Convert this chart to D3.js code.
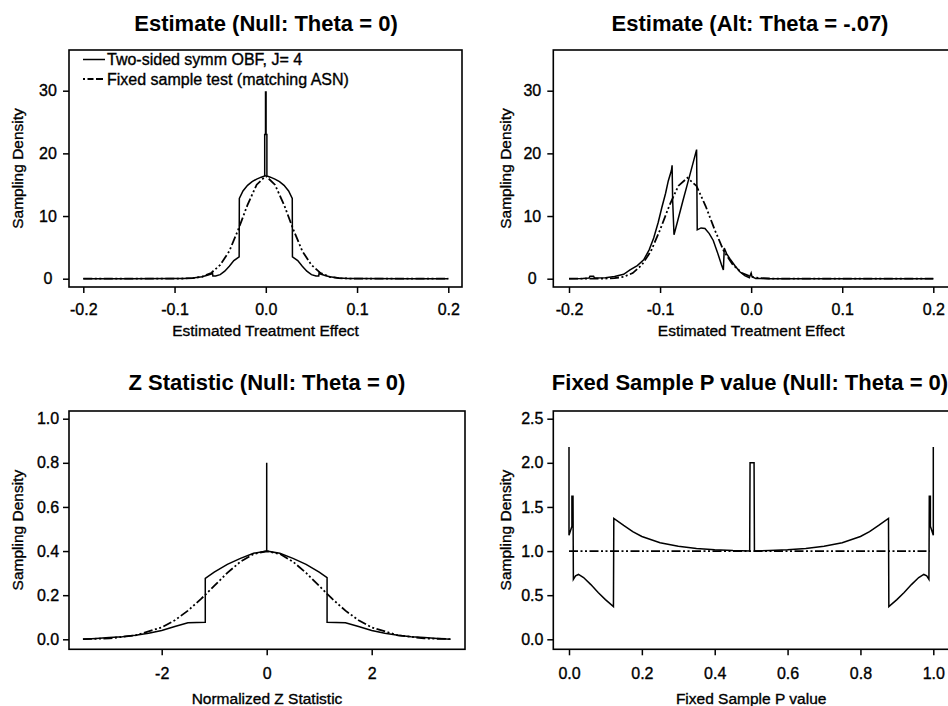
<!DOCTYPE html>
<html>
<head>
<meta charset="utf-8">
<script src="https://cdn.jsdelivr.net/npm/d3@7"></script>
<style>
body { margin: 0; background: #fff; }
svg { display: block; font-family: "Liberation Sans", Arial, sans-serif; }
.heavy { stroke: #000; stroke-width: 0.35px; }
</style>
</head>
<body>
<svg width="948" height="706"></svg>
<script>
// values, [x, density]
const estNullObf = [
  [-0.2, 0], [-0.15, 0], [-0.1, 0.02], [-0.09, 0.04], [-0.08, 0.1], [-0.07, 0.3],
  [-0.065, 0.5], [-0.06, 0.75], [-0.0585, 1.0], [-0.058, 0.45], [-0.055, 0.45],
  [-0.05, 0.65], [-0.045, 1.2], [-0.04, 2.0], [-0.035, 2.9], [-0.0292, 3.5],
  [-0.029, 12.8], [-0.025, 14.0], [-0.02, 14.9], [-0.015, 15.5], [-0.01, 15.9],
  [-0.005, 16.2], [-0.0012, 16.4], [-0.0012, 23], [-0.0003, 23], [-0.0003, 29.8],
  [0.0003, 29.8], [0.0003, 23], [0.0012, 23], [0.0012, 16.4], [0.005, 16.2],
  [0.01, 15.9], [0.015, 15.5], [0.02, 14.9], [0.025, 14.0], [0.029, 12.8],
  [0.0292, 3.5], [0.035, 2.9], [0.04, 2.0], [0.045, 1.2], [0.05, 0.65],
  [0.055, 0.45], [0.058, 0.45], [0.0585, 1.0], [0.06, 0.75], [0.065, 0.5],
  [0.07, 0.3], [0.08, 0.1], [0.09, 0.04], [0.1, 0.02], [0.15, 0], [0.2, 0]
];
const estNullFixed = [
  [-0.2, 0], [-0.12, 0], [-0.1, 0.01], [-0.09, 0.03], [-0.08, 0.09], [-0.07, 0.3],
  [-0.06, 0.9], [-0.05, 2.2], [-0.04, 4.4], [-0.03, 7.9], [-0.02, 11.8],
  [-0.01, 15.0], [0, 16.4], [0.01, 15.0], [0.02, 11.8], [0.03, 7.9], [0.04, 4.4],
  [0.05, 2.2], [0.06, 0.9], [0.07, 0.3], [0.08, 0.09], [0.09, 0.03], [0.1, 0.01],
  [0.12, 0], [0.2, 0]
];
const estAltObf = [
  [-0.2, 0], [-0.185, 0.05], [-0.178, 0.1], [-0.177, 0.4], [-0.173, 0.4],
  [-0.172, 0.1], [-0.16, 0.15], [-0.15, 0.35], [-0.14, 0.7], [-0.133, 1.4],
  [-0.125, 2.1], [-0.118, 3.0], [-0.112, 4.6], [-0.107, 6.5], [-0.102, 9.0],
  [-0.098, 11.4], [-0.094, 13.6], [-0.091, 15.6], [-0.0875, 17.3], [-0.0868, 18.1],
  [-0.0862, 12.6], [-0.0847, 7.0], [-0.08, 9.6], [-0.075, 12.4], [-0.07, 15.1],
  [-0.065, 17.8], [-0.0599, 20.6], [-0.0592, 7.8], [-0.055, 8.1], [-0.0507, 8.0],
  [-0.046, 7.2], [-0.0416, 6.1], [-0.037, 4.2], [-0.0325, 2.2], [-0.0305, 1.4],
  [-0.0295, 4.9], [-0.027, 4.0], [-0.0234, 3.2], [-0.018, 2.1], [-0.0124, 1.1],
  [-0.007, 0.5], [-0.002, 0.15], [0, 0.9], [0.001, 0.3], [0.005, 0.05],
  [0.02, 0], [0.2, 0]
];
const estAltFixed = [
  [-0.2, 0], [-0.17, 0], [-0.16, 0.03], [-0.15, 0.09], [-0.14, 0.3],
  [-0.13, 0.9], [-0.12, 2.2], [-0.11, 4.4], [-0.1, 7.8], [-0.09, 11.6],
  [-0.08, 14.8], [-0.07, 16.1], [-0.06, 14.8], [-0.05, 11.6], [-0.04, 7.8],
  [-0.03, 4.4], [-0.02, 2.2], [-0.01, 0.9], [0, 0.3], [0.01, 0.09], [0.02, 0.03],
  [0.03, 0], [0.2, 0]
];
const zObf = [
  [-3.5, 0], [-3.25, 0.004], [-3.0, 0.008], [-2.75, 0.012], [-2.5, 0.018],
  [-2.25, 0.027], [-2.0, 0.04], [-1.75, 0.058], [-1.5, 0.075], [-1.17, 0.077],
  [-1.17, 0.276], [-1.0, 0.305], [-0.75, 0.34], [-0.5, 0.367], [-0.25, 0.39],
  [0, 0.40], [0, 0.80], [0, 0.40], [0.25, 0.39], [0.5, 0.367], [0.75, 0.34],
  [1.0, 0.305], [1.15, 0.28], [1.15, 0.077], [1.5, 0.075], [1.75, 0.058],
  [2.0, 0.04], [2.25, 0.027], [2.5, 0.018], [2.75, 0.012], [3.0, 0.008],
  [3.25, 0.004], [3.5, 0]
];
const zFixed = [
  [-3.5, 0.001], [-3.0, 0.004], [-2.5, 0.018], [-2.0, 0.054], [-1.75, 0.086],
  [-1.5, 0.13], [-1.25, 0.183], [-1.0, 0.242], [-0.75, 0.301], [-0.5, 0.352],
  [-0.25, 0.387], [0, 0.399], [0.25, 0.387], [0.5, 0.352], [0.75, 0.301],
  [1.0, 0.242], [1.25, 0.183], [1.5, 0.13], [1.75, 0.086], [2.0, 0.054],
  [2.5, 0.018], [3.0, 0.004], [3.5, 0.001]
];
const pObf = [
  [0, 2.18], [0, 1.18], [0.008, 1.28], [0.008, 1.62], [0.011, 1.62], [0.012, 0.68],
  [0.018, 0.72], [0.026, 0.735], [0.04, 0.70], [0.06, 0.62], [0.08, 0.53],
  [0.1, 0.45], [0.122, 0.37], [0.123, 1.37], [0.15, 1.29], [0.175, 1.22],
  [0.2, 1.165], [0.25, 1.095], [0.3, 1.055], [0.35, 1.03], [0.4, 1.015],
  [0.45, 1.005], [0.496, 1.0], [0.497, 2.0], [0.508, 2.0], [0.509, 1.0],
  [0.55, 1.005], [0.6, 1.015], [0.65, 1.03], [0.7, 1.055], [0.75, 1.095],
  [0.8, 1.165], [0.825, 1.22], [0.85, 1.29], [0.877, 1.37], [0.878, 0.37],
  [0.9, 0.45], [0.92, 0.53], [0.94, 0.62], [0.96, 0.70], [0.974, 0.735],
  [0.982, 0.72], [0.988, 0.68], [0.989, 1.62], [0.992, 1.62], [0.992, 1.28],
  [1.0, 1.18], [1.0, 2.18]
];
const pFixed = [[0, 1], [0.99, 1]];

const estTicksX = [-0.2, -0.1, 0, 0.1, 0.2];
const estTicksY = [0, 10, 20, 30];
const zTicksX = [-2, 0, 2];
const zTicksY = [0, 0.2, 0.4, 0.6, 0.8, 1.0];
const pTicksX = [0, 0.2, 0.4, 0.6, 0.8, 1.0];
const pTicksY = [0, 0.5, 1.0, 1.5, 2.0, 2.5];

const legendLabels = ["Two-sided symm OBF, J= 4", "Fixed sample test (matching ASN)"];

const svg = d3.select("svg");
const dashFixed = "9,2.5,2,2.5,2,2.5";
const fmt1 = d => d.toFixed(1);

function panel(c) {
  const x = d3.scaleLinear().domain(c.xd).range(c.xr);
  const y = d3.scaleLinear().domain(c.yd).range(c.yr);
  const g = svg.append("g");

  g.append("text")
    .attr("x", c.titleX).attr("y", c.titleY)
    .attr("text-anchor", "middle")
    .attr("font-size", 22).attr("font-weight", "bold")
    .text(c.title);

  const line = d3.line().x(d => x(d[0])).y(d => y(d[1]));
  g.append("path").datum(c.fixed)
    .attr("fill", "none").attr("stroke", "#000")
    .attr("stroke-width", 1.8).attr("stroke-dasharray", dashFixed)
    .attr("d", line);
  g.append("path").datum(c.obf)
    .attr("fill", "none").attr("stroke", "#000")
    .attr("stroke-width", 1.5).attr("stroke-linejoin", "miter")
    .attr("d", line);

  g.append("rect")
    .attr("x", c.box[0]).attr("y", c.box[1])
    .attr("width", c.box[2] - c.box[0]).attr("height", c.box[3] - c.box[1])
    .attr("fill", "none").attr("stroke", "#000").attr("stroke-width", 1.6);

  const ya = g.append("g")
    .attr("transform", `translate(${c.box[0]},0)`)
    .call(d3.axisLeft(y).tickValues(c.yTicks).tickSize(6).tickFormat(c.fy));
  ya.select(".domain").remove();
  ya.selectAll("line").attr("stroke-width", 1.5);
  ya.selectAll("text")
    .attr("x", -21).attr("text-anchor", "middle")
    .attr("class", "heavy")
    .attr("font-size", 16).attr("font-family", null);

  const xa = g.append("g")
    .attr("transform", `translate(0,${c.box[3]})`)
    .call(d3.axisBottom(x).tickValues(c.xTicks).tickSize(6).tickFormat(c.fx));
  xa.select(".domain").remove();
  xa.selectAll("line").attr("stroke-width", 1.5);
  xa.selectAll("text")
    .attr("y", c.tickY).attr("dy", 0)
    .attr("class", "heavy")
    .attr("font-size", 16).attr("font-family", null);

  g.append("text")
    .attr("x", (c.box[0] + c.box[2]) / 2).attr("y", c.xLabelY)
    .attr("text-anchor", "middle").attr("font-size", 15.5)
    .attr("class", "heavy")
    .text(c.xLabel);

  g.append("text")
    .attr("transform", `translate(${c.yLabelX},${(c.box[1] + c.box[3]) / 2}) rotate(-90)`)
    .attr("text-anchor", "middle").attr("font-size", 15.5)
    .attr("class", "heavy")
    .text("Sampling Density");
  return g;
}

const p1 = panel({
  box: [69, 50, 462, 287], xd: [-0.2, 0.2], xr: [83.3, 448.3], yd: [0, 30], yr: [278.7, 90.7],
  xTicks: estTicksX, yTicks: estTicksY, fx: fmt1, fy: d => String(d), tickY: 28,
  title: "Estimate (Null: Theta = 0)", titleX: 266, titleY: 31,
  xLabel: "Estimated Treatment Effect", xLabelY: 336, yLabelX: 23,
  obf: estNullObf, fixed: estNullFixed
});
panel({
  box: [553.3, 50, 949, 287], xd: [-0.2, 0.2], xr: [569, 933.3], yd: [0, 30], yr: [278.7, 90.7],
  xTicks: estTicksX, yTicks: estTicksY, fx: fmt1, fy: d => String(d), tickY: 28,
  title: "Estimate (Alt: Theta = -.07)", titleX: 750, titleY: 31,
  xLabel: "Estimated Treatment Effect", xLabelY: 336, yLabelX: 511,
  obf: estAltObf, fixed: estAltFixed
});
panel({
  box: [69, 411, 465, 649.3], xd: [-2, 2], xr: [161.7, 371.7], yd: [0, 1], yr: [639.3, 418.7],
  xTicks: zTicksX, yTicks: zTicksY, fx: d => String(d), fy: fmt1, tickY: 30,
  title: "Z Statistic (Null: Theta = 0)", titleX: 267, titleY: 390,
  xLabel: "Normalized Z Statistic", xLabelY: 704, yLabelX: 23,
  obf: zObf, fixed: zFixed
});
panel({
  box: [553.3, 411, 949, 649.3], xd: [0, 1], xr: [569, 933.3], yd: [0, 2.5], yr: [639.3, 418.7],
  xTicks: pTicksX, yTicks: pTicksY, fx: fmt1, fy: fmt1, tickY: 30,
  title: "Fixed Sample P value (Null: Theta = 0)", titleX: 750, titleY: 390,
  xLabel: "Fixed Sample P value", xLabelY: 704, yLabelX: 511,
  obf: pObf, fixed: pFixed
});

// legend, top-left panel
const leg = p1.append("g");
leg.selectAll("line").data(legendLabels).join("line")
  .attr("x1", 83).attr("x2", 105)
  .attr("y1", (d, i) => 59.5 + i * 19.5).attr("y2", (d, i) => 59.5 + i * 19.5)
  .attr("stroke", "#000")
  .attr("stroke-width", (d, i) => i ? 1.8 : 1.5)
  .attr("stroke-dasharray", (d, i) => i ? "2,2.5,6,2.5,5,0" : null);
leg.selectAll("text").data(legendLabels).join("text")
  .attr("x", 107).attr("y", (d, i) => 65 + i * 19.5)
  .attr("font-size", 16).attr("class", "heavy")
  .text(d => d);
</script>
</body>
</html>
